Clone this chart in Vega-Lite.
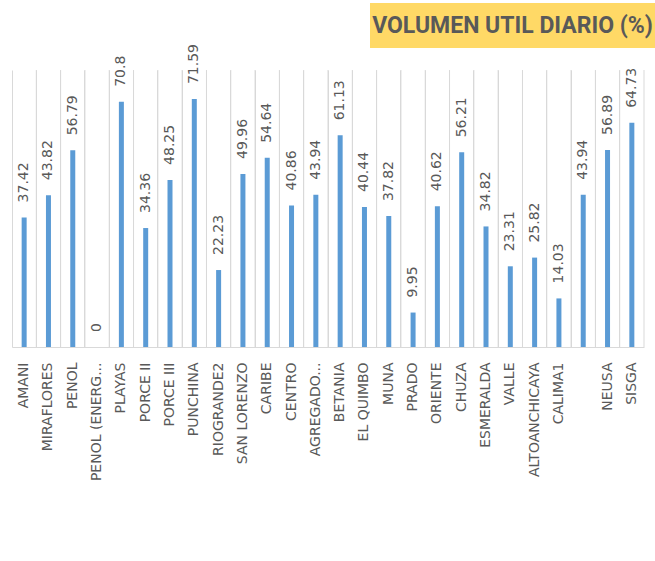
{
  "$schema": "https://vega.github.io/schema/vega-lite/v6.json",
  "padding": {"left": 12, "top": 3, "right": 0, "bottom": 0},
  "background": "white",
  "config": {"view": {"stroke": null}},
  "datasets": {
    "embalses": [
      {"embalse": "AMANI", "volumen": 37.42},
      {"embalse": "MIRAFLORES", "volumen": 43.82},
      {"embalse": "PENOL", "volumen": 56.79},
      {"embalse": "PENOL (ENERG...", "volumen": 0},
      {"embalse": "PLAYAS", "volumen": 70.8},
      {"embalse": "PORCE II", "volumen": 34.36},
      {"embalse": "PORCE III", "volumen": 48.25},
      {"embalse": "PUNCHINA", "volumen": 71.59},
      {"embalse": "RIOGRANDE2", "volumen": 22.23},
      {"embalse": "SAN LORENZO", "volumen": 49.96},
      {"embalse": "CARIBE", "volumen": 54.64},
      {"embalse": "CENTRO", "volumen": 40.86},
      {"embalse": "AGREGADO...", "volumen": 43.94},
      {"embalse": "BETANIA", "volumen": 61.13},
      {"embalse": "EL QUIMBO", "volumen": 40.44},
      {"embalse": "MUNA", "volumen": 37.82},
      {"embalse": "PRADO", "volumen": 9.95},
      {"embalse": "ORIENTE", "volumen": 40.62},
      {"embalse": "CHUZA", "volumen": 56.21},
      {"embalse": "ESMERALDA", "volumen": 34.82},
      {"embalse": "VALLE", "volumen": 23.31},
      {"embalse": "ALTOANCHICAYA", "volumen": 25.82},
      {"embalse": "CALIMA1", "volumen": 14.03},
      {"embalse": " ", "volumen": 43.94},
      {"embalse": "NEUSA", "volumen": 56.89},
      {"embalse": "SISGA", "volumen": 64.73}
    ],
    "titulo": [{"titulo": "VOLUMEN UTIL DIARIO (%)"}]
  },
  "spacing": -4,
  "vconcat": [
    {
      "spacing": 0,
      "hconcat": [
        {
          "width": 358,
          "height": 45,
          "data": {"name": "titulo"},
          "mark": {"type": "text", "opacity": 0},
          "encoding": {"text": {"value": ""}}
        },
        {
          "width": 285,
          "height": 45,
          "data": {"name": "titulo"},
          "view": {"fill": "#FFD966", "stroke": null},
          "mark": {"type": "text", "font": "Roboto", "fontWeight": "bold", "fontSize": 23, "color": "#595959", "align": "center", "baseline": "middle"},
          "encoding": {"text": {"field": "titulo", "type": "nominal"}}
        }
      ]
    },
    {
      "width": 632,
      "height": 277,
      "data": {"name": "embalses"},
      "encoding": {
        "x": {
          "field": "embalse",
          "type": "nominal",
          "sort": null,
          "scale": {"paddingInner": 0, "paddingOuter": 0},
          "axis": {
            "title": null,
            "grid": true,
            "bandPosition": 0,
            "gridColor": "#d9d9d9",
            "domainColor": "#d9d9d9",
            "ticks": false,
            "labelAngle": -90,
            "labelPadding": 15,
            "labelFont": "DejaVu Sans",
            "labelFontSize": 14,
            "labelColor": "#595959",
            "labelLimit": 400
          }
        }
      },
      "layer": [
        {
          "mark": {"type": "rule", "color": "#d9d9d9", "strokeWidth": 1},
          "encoding": {"x": {"field": "embalse", "type": "nominal", "sort": null, "bandPosition": 1}}
        },
        {
          "mark": {"type": "bar", "color": "#5B9BD5", "size": 5},
          "encoding": {"y": {"field": "volumen", "type": "quantitative", "scale": {"domain": [0, 80]}, "axis": null}}
        },
        {
          "mark": {"type": "text", "angle": 270, "align": "left", "baseline": "middle", "dx": 15, "font": "DejaVu Sans", "fontSize": 14, "color": "#595959"},
          "encoding": {
            "y": {"field": "volumen", "type": "quantitative"},
            "text": {"field": "volumen", "type": "quantitative", "format": ".2~f"}
          }
        }
      ]
    }
  ]
}
